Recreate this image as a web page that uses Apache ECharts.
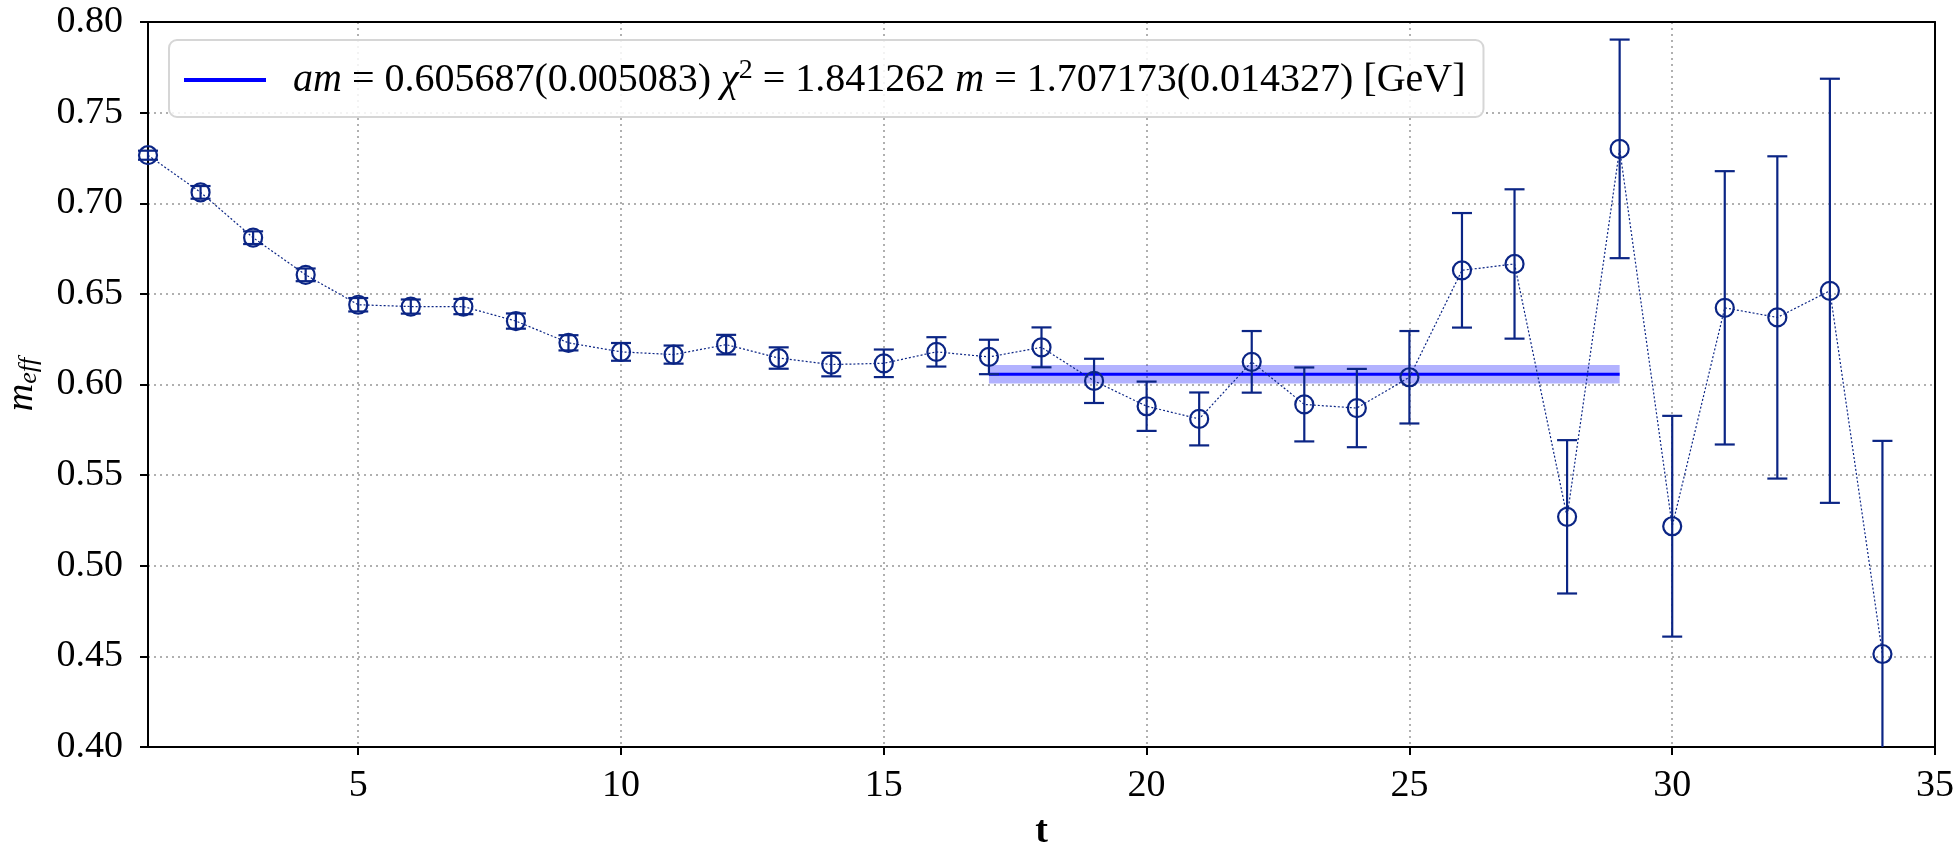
<!DOCTYPE html>
<html>
<head>
<meta charset="utf-8">
<script src="https://cdn.jsdelivr.net/npm/echarts@6/dist/echarts.min.js"></script>
<style>
  html, body { margin: 0; padding: 0; background: #fff; }
  #chart { width: 1959px; height: 847px; }
</style>
</head>
<body>
<div id="chart"></div>
<script>
// time slices
var tValues = [1, 2, 3, 4, 5, 6, 7, 8, 9, 10, 11, 12, 13, 14, 15, 16, 17,
  18, 19, 20, 21, 22, 23, 24, 25, 26, 27, 28, 29, 30, 31, 32, 33, 34];
// effective mass
var meffValues = [0.7265, 0.706, 0.681, 0.6605, 0.644, 0.643, 0.643, 0.635, 0.623, 0.618,
  0.6165, 0.622, 0.6146, 0.611, 0.6117, 0.618, 0.6152, 0.6205, 0.602, 0.588,
  0.581, 0.6125, 0.589, 0.587, 0.604, 0.663, 0.6665, 0.527, 0.730, 0.5218,
  0.6423, 0.637, 0.6517, 0.4513];
// errors
var meffErrors = [0.0025, 0.0035, 0.0035, 0.0035, 0.0037, 0.0039, 0.0042, 0.0042, 0.0042, 0.0049,
  0.0050, 0.0054, 0.0059, 0.0065, 0.0076, 0.0081, 0.0095, 0.0110, 0.0122, 0.0136,
  0.0146, 0.0170, 0.0204, 0.0216, 0.0255, 0.0316, 0.0412, 0.0423, 0.0603, 0.0609,
  0.0754, 0.0889, 0.1170, 0.1176];
// fit plateau
var fitRange = [17, 29];
var fitValue = 0.605687;
var fitError = 0.005083;
var xTickLabels = [5, 10, 15, 20, 25, 30, 35];

var navy = '#0b2585';
var fontFamily = "'Liberation Serif', 'DejaVu Serif', serif";
var fontSize = 38;
var legendSize = 40;

var pointData = tValues.map(function (t, i) { return [t, meffValues[i]]; });
var errData = tValues.map(function (t, i) {
  return [t, meffValues[i] - meffErrors[i], meffValues[i] + meffErrors[i]];
});

var myChart = echarts.init(document.getElementById('chart'));

var gridLine = { show: true, lineStyle: { color: '#b0b0b0', width: 2, type: [2, 4] } };
var blackLine = { show: true, onZero: false, lineStyle: { color: '#000', width: 2 } };

var option = {
  animation: false,
  backgroundColor: '#fff',
  textStyle: { fontFamily: fontFamily },
  grid: {
    left: 148,
    top: 22,
    right: 24,
    bottom: 100,
    outerBoundsMode: 'none',
    containLabel: false
  },
  legend: {
    left: 169,
    top: 40,
    padding: [17, 18, 17, 15],
    backgroundColor: 'rgba(255,255,255,0.85)',
    borderColor: '#d6d6d6',
    borderWidth: 2,
    borderRadius: 8,
    itemWidth: 82,
    itemHeight: 4,
    data: [{ name: 'fit', icon: 'rect' }],
    formatter: function () {
      return '{sp|}{i|am}{t| = 0.605687(0.005083) }{i|χ}{sup|2}{t| = 1.841262 }{i|m}{t| = 1.707173(0.014327) [GeV]}';
    },
    textStyle: {
      color: '#000',
      fontFamily: fontFamily,
      fontSize: legendSize,
      rich: {
        sp: { width: 22 },
        t: { fontFamily: fontFamily, fontSize: legendSize, lineHeight: 46, color: '#000' },
        i: { fontFamily: fontFamily, fontSize: legendSize, fontStyle: 'italic', lineHeight: 46, color: '#000' },
        sup: { fontFamily: fontFamily, fontSize: 28, lineHeight: 28, verticalAlign: 'top', color: '#000' }
      }
    }
  },
  xAxis: [{
    type: 'value',
    min: 1,
    max: 35,
    name: 't',
    nameLocation: 'middle',
    nameGap: 66,
    nameTextStyle: { fontFamily: fontFamily, fontSize: fontSize, fontWeight: 'bold', color: '#000' },
    axisLine: blackLine,
    axisTick: { show: true, length: 8, customValues: xTickLabels, lineStyle: { color: '#000', width: 2 } },
    axisLabel: {
      customValues: xTickLabels,
      margin: 20,
      fontFamily: fontFamily,
      fontSize: fontSize,
      color: '#000'
    },
    splitLine: gridLine
  }, {
    // top frame
    type: 'value',
    position: 'top',
    min: 1,
    max: 35,
    axisLine: blackLine,
    axisTick: { show: false },
    axisLabel: { show: false },
    splitLine: { show: false }
  }],
  yAxis: [{
    type: 'value',
    min: 0.40,
    max: 0.80,
    interval: 0.05,
    name: '{m|m}{s|eff}',
    nameLocation: 'middle',
    nameRotate: 90,
    nameGap: 106,
    nameTextStyle: {
      rich: {
        m: { fontFamily: fontFamily, fontSize: fontSize, fontStyle: 'italic', lineHeight: 40, color: '#000' },
        s: { fontFamily: fontFamily, fontSize: 26, fontStyle: 'italic', lineHeight: 26, verticalAlign: 'bottom', color: '#000' }
      }
    },
    axisLine: blackLine,
    axisTick: { show: true, length: 8, lineStyle: { color: '#000', width: 2 } },
    axisLabel: {
      margin: 25,
      fontFamily: fontFamily,
      fontSize: fontSize,
      color: '#000',
      formatter: function (v) { return v.toFixed(2); }
    },
    splitLine: gridLine
  }, {
    // right frame
    type: 'value',
    position: 'right',
    min: 0.40,
    max: 0.80,
    interval: 0.05,
    axisLine: blackLine,
    axisTick: { show: false },
    axisLabel: { show: false },
    splitLine: { show: false }
  }],
  series: [
    {
      // fit band
      type: 'custom',
      silent: true,
      z: 1,
      data: [[fitRange[0], fitRange[1], fitValue - fitError, fitValue + fitError]],
      renderItem: function (params, api) {
        var p1 = api.coord([api.value(0), api.value(3)]);
        var p2 = api.coord([api.value(1), api.value(2)]);
        return {
          type: 'rect',
          shape: { x: p1[0], y: p1[1], width: p2[0] - p1[0], height: p2[1] - p1[1] },
          style: { fill: 'rgba(0,0,255,0.3)' }
        };
      }
    },
    {
      name: 'fit',
      type: 'line',
      z: 2,
      symbol: 'none',
      color: '#0000ff',
      lineStyle: { color: '#0000ff', width: 3 },
      data: [[fitRange[0], fitValue], [fitRange[1], fitValue]]
    },
    {
      // error bars
      type: 'custom',
      z: 3,
      data: errData,
      renderItem: function (params, api) {
        var x = api.value(0);
        var top = api.coord([x, api.value(2)]);
        var bot = api.coord([x, api.value(1)]);
        var cs = params.coordSys;
        var yMax = cs.y + cs.height;
        var w = 10;
        var style = { stroke: navy, lineWidth: 2.2, fill: null };
        var children = [];
        var botY = Math.min(bot[1], yMax);
        children.push({ type: 'line', shape: { x1: top[0], y1: top[1], x2: top[0], y2: botY }, style: style });
        children.push({ type: 'line', shape: { x1: top[0] - w, y1: top[1], x2: top[0] + w, y2: top[1] }, style: style });
        if (bot[1] <= yMax) {
          children.push({ type: 'line', shape: { x1: bot[0] - w, y1: bot[1], x2: bot[0] + w, y2: bot[1] }, style: style });
        }
        return { type: 'group', children: children };
      }
    },
    {
      name: 'meff',
      type: 'line',
      z: 4,
      data: pointData,
      symbol: 'circle',
      symbolSize: 18,
      itemStyle: { color: 'rgba(0,0,0,0)', borderColor: navy, borderWidth: 2.2 },
      lineStyle: { color: navy, width: 1.2, type: [2, 2] }
    }
  ]
};
myChart.setOption(option);
</script>
</body>
</html>
